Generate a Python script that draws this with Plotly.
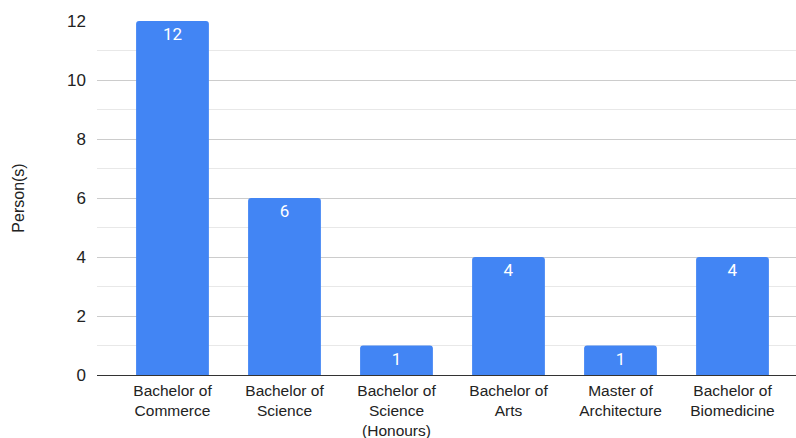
import plotly.graph_objects as go

categories = ["Bachelor of<br>Commerce", "Bachelor of<br>Science", "Bachelor of<br>Science<br>(Honours)",
              "Bachelor of<br>Arts", "Master of<br>Architecture", "Bachelor of<br>Biomedicine"]
values = [12, 6, 1, 4, 1, 4]
y_ticks = [0, 2, 4, 6, 8, 10, 12]

fig = go.Figure(go.Bar(
    x=list(range(len(categories))), y=values,
    marker=dict(color="#4285F4", line=dict(width=0)),
    text=[str(v) for v in values], textposition="inside", insidetextanchor="end",
    textfont=dict(family="Roboto", size=17, color="white"),
    cliponaxis=False,
))

fig.update_layout(
    width=796, height=438,
    margin=dict(l=97, r=0, t=21, b=63),
    paper_bgcolor="white", plot_bgcolor="white",
    bargap=0.35, barcornerradius=3,
    showlegend=False,
    font=dict(family="Arial, Liberation Sans", color="#222222"),
    xaxis=dict(
        tickmode="array", tickvals=list(range(len(categories))), ticktext=categories,
        range=[-0.674, 5.567], showgrid=False, zeroline=False,
        showline=False, tickfont=dict(size=15.5, color="#222222"),
        ticks="", ticklabelstandoff=4, automargin=False,
    ),
    yaxis=dict(
        range=[0, 12], tickvals=y_ticks, showgrid=True, gridcolor="#cccccc", gridwidth=1,
        minor=dict(dtick=1, showgrid=True, gridcolor="#e8e8e8", gridwidth=1),
        zeroline=True, zerolinecolor="#333333", zerolinewidth=1,
        showline=False, ticks="", ticklabelstandoff=10, automargin=False,
        tickfont=dict(size=17, color="#222222"),
        title=dict(text="Person(s)", font=dict(size=16, color="#222222"), standoff=38),
    ),
)

fig.write_html("out.html")
